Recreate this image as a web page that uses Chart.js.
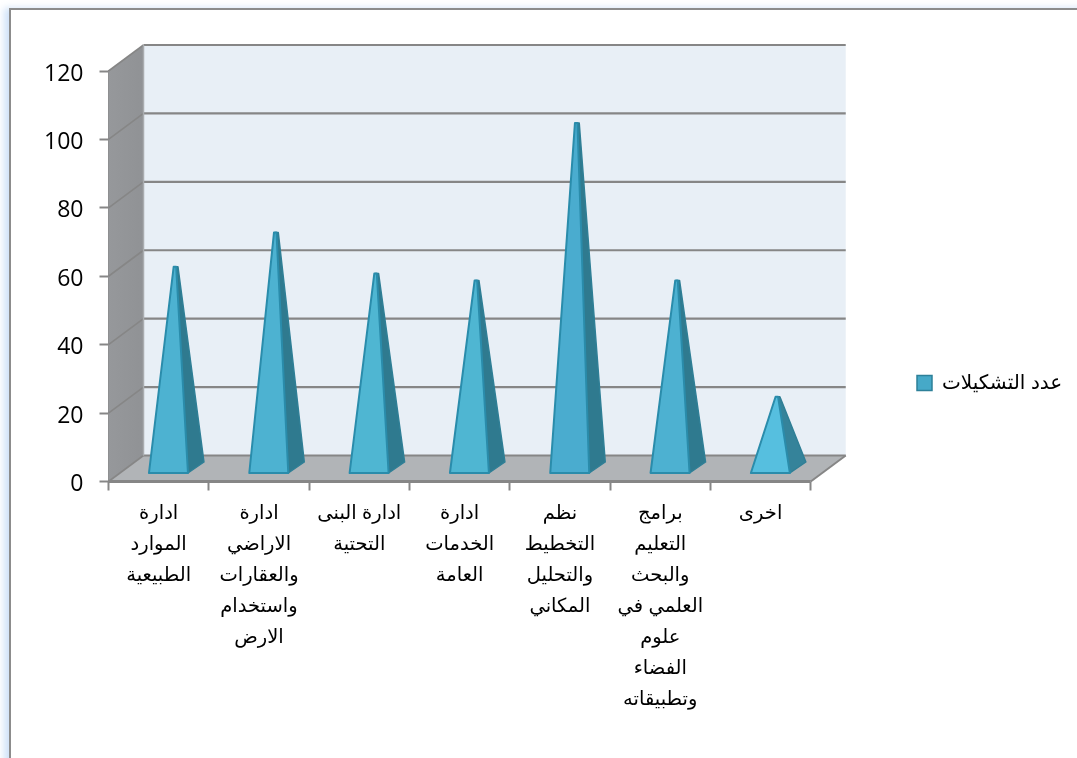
<!DOCTYPE html>
<html lang="ar">
<head>
<meta charset="utf-8">
<style>
html,body{margin:0;padding:0;background:#fff;width:1077px;height:758px;overflow:hidden}
#frame{position:absolute;left:9px;top:8px;width:1100px;height:800px;border-left:2px solid #8c8c8c;border-top:2px solid #8c8c8c;box-shadow:-5px 0 7px rgba(150,190,240,.45);background:#fff}
#c{position:absolute;left:0;top:0;display:block}
</style>
</head>
<body>
<div id="frame"></div>
<canvas id="c" width="1077" height="758"></canvas>
<script src="https://cdn.jsdelivr.net/npm/chart.js@4"></script>
<script>
const categories = [
  ['ادارة','الموارد','الطبيعية'],
  ['ادارة','الاراضي','والعقارات','واستخدام','الارض'],
  ['ادارة البنى','التحتية'],
  ['ادارة','الخدمات','العامة'],
  ['نظم','التخطيط','والتحليل','المكاني'],
  ['برامج','التعليم','والبحث','العلمي في','علوم','الفضاء','وتطبيقاته'],
  ['اخرى']
];
const seriesName = 'عدد التشكيلات';
const seriesValues = [60, 70, 58, 56, 102, 56, 22];
const faceColors = ['#4db2d1','#4db2d1','#4fb6d2','#4fb6d2','#4aaccf','#4db1d1','#56bfdf'];
const sideColors = ['#2f7a8f','#2f7a8f','#2f7a8f','#2f7a8f','#2f7a8f','#2f7a8f','#35839a'];
const tickValues = [0, 20, 40, 60, 80, 100, 120];

const DX = 35, DY = -26;
const GRID = '#868686';

function poly(ctx, pts, fill, stroke, lw) {
  ctx.beginPath();
  pts.forEach((p, i) => i ? ctx.lineTo(p[0], p[1]) : ctx.moveTo(p[0], p[1]));
  ctx.closePath();
  if (fill) { ctx.fillStyle = fill; ctx.fill(); }
  if (stroke) { ctx.strokeStyle = stroke; ctx.lineWidth = lw || 1; ctx.lineJoin = 'round'; ctx.stroke(); }
}
function seg(ctx, x1, y1, x2, y2, c, w) {
  ctx.beginPath(); ctx.moveTo(x1, y1); ctx.lineTo(x2, y2);
  ctx.strokeStyle = c; ctx.lineWidth = w; ctx.stroke();
}

const box3d = {
  id: 'box3d',
  afterLayout(chart) {
    const l = chart.legend;
    const h = l.bottom - l.top;
    l.left = 907; l.right = l.left + l.width;
    l.top = 383 - h / 2; l.bottom = l.top + h;
  },
  beforeDatasetsDraw(chart) {
    const { ctx, chartArea: a, scales: { x, y } } = chart;
    const top = y.getPixelForValue(120), bot = y.getPixelForValue(0);
    ctx.save();
    poly(ctx, [[a.left + DX, top + DY], [a.right + DX, top + DY], [a.right + DX, bot + DY], [a.left + DX, bot + DY]], '#e8eff6');
    const g = ctx.createLinearGradient(a.left, 0, a.left + DX, 0);
    g.addColorStop(0, '#96989b'); g.addColorStop(1, '#909295');
    poly(ctx, [[a.left, top], [a.left + DX, top + DY], [a.left + DX, bot + DY], [a.left, bot]], g);
    poly(ctx, [[a.left, bot], [a.left + DX, bot + DY], [a.right + DX, bot + DY], [a.right, bot]], '#b1b4b7');
    tickValues.forEach(v => {
      const p = y.getPixelForValue(v);
      seg(ctx, a.left, p, a.left + DX, p + DY, GRID, 1.6);
      seg(ctx, a.left + DX, p + DY, a.right + DX, p + DY, GRID, 2.2);
    });
    seg(ctx, a.left + DX, top + DY, a.left + DX, bot + DY, '#a9acaf', 1.5);
    seg(ctx, a.right, bot, a.right + DX, bot + DY, GRID, 2);
    seg(ctx, a.left, bot, a.right, bot, GRID, 3);
    ctx.restore();
  },
  beforeDatasetDraw(chart, args) {
    const { ctx, scales: { y } } = chart;
    const base = y.getPixelForValue(0);
    ctx.save();
    args.meta.data.forEach((bar, i) => {
      const tipY = bar.y - 9.5;
      const fl = [bar.x - 9.7, base - 8.5], fr = [bar.x + 29.3, base - 8.5], br = [bar.x + 45.3, base - 19.5];
      poly(ctx, [fr, br, [bar.x + 19.3, tipY], [bar.x + 16, tipY]], sideColors[i], '#2f7f96', 1.5);
      poly(ctx, [fl, fr, [bar.x + 17.5, tipY], [bar.x + 15, tipY]], faceColors[i], '#2a8cab', 2);
    });
    ctx.restore();
    return false;
  }
};

new Chart(document.getElementById('c'), {
  type: 'bar',
  data: {
    labels: categories,
    datasets: [{
      label: seriesName,
      data: seriesValues,
      backgroundColor: '#46a9c8',
      borderColor: '#2d8099',
      borderWidth: 1.5
    }]
  },
  options: {
    responsive: false,
    animation: false,
    devicePixelRatio: 1,
    layout: { padding: { left: 0, top: 71, right: 101, bottom: 0 } },
    plugins: {
      title: { display: false },
      tooltip: { enabled: false },
      legend: {
        position: 'right',
        labels: {
          boxWidth: 15, boxHeight: 15, padding: 10, color: '#000',
          font: { family: '"Liberation Sans","DejaVu Sans",sans-serif', size: 20 }
        }
      }
    },
    scales: {
      x: {
        offset: true,
        afterFit(s) { s.height = 276.5; },
        grid: { offset: true, drawOnChartArea: false, drawTicks: true, tickLength: 9, color: GRID, tickColor: GRID, tickWidth: 2 },
        border: { display: false },
        ticks: {
          autoSkip: false, maxRotation: 0, minRotation: 0, padding: 8, color: '#000',
          font: { family: '"Liberation Sans","DejaVu Sans",sans-serif', size: 19.5, lineHeight: 1.585 }
        }
      },
      y: {
        min: 0, max: 120,
        afterFit(s) { s.width = 108.5; },
        afterBuildTicks(s) { s.ticks = tickValues.map(v => ({ value: v })); },
        grid: { drawOnChartArea: false, drawTicks: true, tickLength: 9, color: GRID, tickColor: GRID, tickWidth: 2 },
        border: { display: true, color: GRID, width: 2 },
        ticks: { padding: 16, labelOffset: 3, color: '#000', font: { family: '"Open Sans",sans-serif', size: 23 } }
      }
    }
  },
  plugins: [box3d]
});
</script>
</body>
</html>
